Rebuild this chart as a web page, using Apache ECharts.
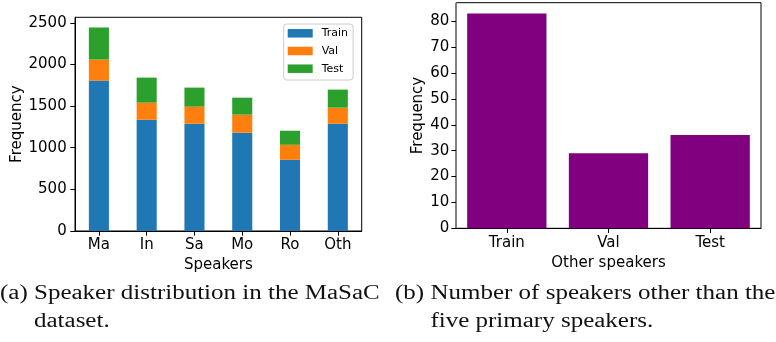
<!DOCTYPE html>
<html>
<head>
<meta charset="utf-8">
<script src="https://cdn.jsdelivr.net/npm/echarts@6/dist/echarts.min.js"></script>
<style>
  html, body { margin: 0; padding: 0; background: #fff; }
  #chart { width: 776px; height: 342px; }
</style>
</head>
<body>
<div id="chart"></div>
<script>
// Panel (a): utterances per primary speaker, stacked by split
const speakers = ['Ma', 'In', 'Sa', 'Mo', 'Ro', 'Oth'];
const trainCounts = [1806, 1336, 1288, 1180, 855, 1288];
const valCounts = [253, 205, 205, 217, 180, 193];
const testCounts = [385, 301, 229, 204, 169, 217];
const leftTicks = [0, 500, 1000, 1500, 2000, 2500];

// Panel (b): count of non-primary speakers per split
const splits = ['Train', 'Val', 'Test'];
const otherSpeakers = [83, 29, 36];
const rightTicks = [0, 10, 20, 30, 40, 50, 60, 70, 80];

const captionA = ['(a) Speaker distribution in the MaSaC', 'dataset.'];
const captionB = ['(b) Number of speakers other than the', 'five primary speakers.'];

const totals = speakers.map((_, i) => trainCounts[i] + valCounts[i] + testCounts[i]);
const leftMax = Math.max(...totals) * 1.05;
const rightMax = Math.max(...otherSpeakers) * 1.05;

const SANS = '"DejaVu Sans", sans-serif';
const SERIF = '"Liberation Serif", "Times New Roman", serif';
const FONT = 15;

function valueAxis(gridIndex, max, ticks, labelMargin, nameGap, lineColor) {
  return {
    type: 'value', gridIndex, min: 0, max,
    name: 'Frequency', nameLocation: 'middle', nameGap,
    nameTextStyle: { fontFamily: SANS, fontSize: FONT, color: '#000' },
    axisLine: { show: true, lineStyle: { color: lineColor, width: 1 } },
    axisTick: { show: true, length: 4.7, customValues: ticks, lineStyle: { color: '#000', width: 1 } },
    axisLabel: {
      customValues: ticks, margin: labelMargin, fontFamily: SANS, fontSize: FONT, color: '#000',
      formatter: (v) => String(v)
    },
    splitLine: { show: false }
  };
}

function categoryAxis(gridIndex, data, name, nameGap) {
  return {
    type: 'category', gridIndex, data,
    name, nameLocation: 'middle', nameGap,
    nameTextStyle: { fontFamily: SANS, fontSize: FONT, color: '#000' },
    axisLine: { show: true, lineStyle: { color: '#000', width: 1 } },
    axisTick: { show: true, alignWithLabel: true, length: 4.7, lineStyle: { color: '#000', width: 1 } },
    axisLabel: { margin: 7, fontFamily: SANS, fontSize: FONT, color: '#000' },
    splitLine: { show: false }
  };
}

// Caption text, widened horizontally like the typeset figure captions
function captionLines(lines, x, indent, baselines) {
  return lines.map((t, i) => ({
    type: 'text',
    x: x + (i === 0 ? 0 : indent),
    y: baselines[i] - 6.6,
    scaleX: 1.25,
    style: {
      text: t, fontFamily: SERIF, fontSize: 20, fill: '#111',
      verticalAlign: 'middle', align: 'left'
    }
  }));
}

const chart = echarts.init(document.getElementById('chart'), null, { renderer: 'canvas' });

chart.setOption({
  animation: false,
  backgroundColor: '#fff',
  grid: [
    { left: 75, top: 17.3, width: 286.7, height: 213.7, show: true, borderColor: '#000', borderWidth: 1, backgroundColor: 'transparent' },
    { left: 456, top: 2.7, width: 305, height: 225.6, show: true, borderColor: '#000', borderWidth: 1, backgroundColor: 'transparent' }
  ],
  legend: {
    data: ['Train', 'Val', 'Test'],
    orient: 'vertical',
    left: 283.7, top: 24,
    icon: 'rect',
    itemWidth: 25, itemHeight: 8.5, itemGap: 5.7,
    padding: [3.3, 5, 5.3, 4],
    borderColor: '#cccccc', borderWidth: 1, borderRadius: 3,
    backgroundColor: 'rgba(255,255,255,0.8)',
    textStyle: { fontFamily: SANS, fontSize: 11, color: '#000', lineHeight: 12, padding: [0, 0, 0, 4] }
  },
  xAxis: [
    categoryAxis(0, speakers, 'Speakers', 23.5),
    categoryAxis(1, splits, 'Other speakers', 25)
  ],
  yAxis: [
    valueAxis(0, leftMax, leftTicks, 8.3, 45, '#000'),
    valueAxis(1, rightMax, rightTicks, 6.7, 30, '#808080')
  ],
  series: [
    { name: 'Train', type: 'bar', stack: 'split', xAxisIndex: 0, yAxisIndex: 0, data: trainCounts, barWidth: '42%', itemStyle: { color: '#1f77b4' } },
    { name: 'Val', type: 'bar', stack: 'split', xAxisIndex: 0, yAxisIndex: 0, data: valCounts, barWidth: '42%', itemStyle: { color: '#ff7f0e' } },
    { name: 'Test', type: 'bar', stack: 'split', xAxisIndex: 0, yAxisIndex: 0, data: testCounts, barWidth: '42%', itemStyle: { color: '#2ca02c' } },
    { name: 'Other speakers', type: 'bar', xAxisIndex: 1, yAxisIndex: 1, data: otherSpeakers, barWidth: '78%', itemStyle: { color: '#800080' } }
  ],
  graphic: [
    ...captionLines(captionA, 0, 34, [300, 328]),
    ...captionLines(captionB, 395, 35.4, [300, 328])
  ]
});
</script>
</body>
</html>
